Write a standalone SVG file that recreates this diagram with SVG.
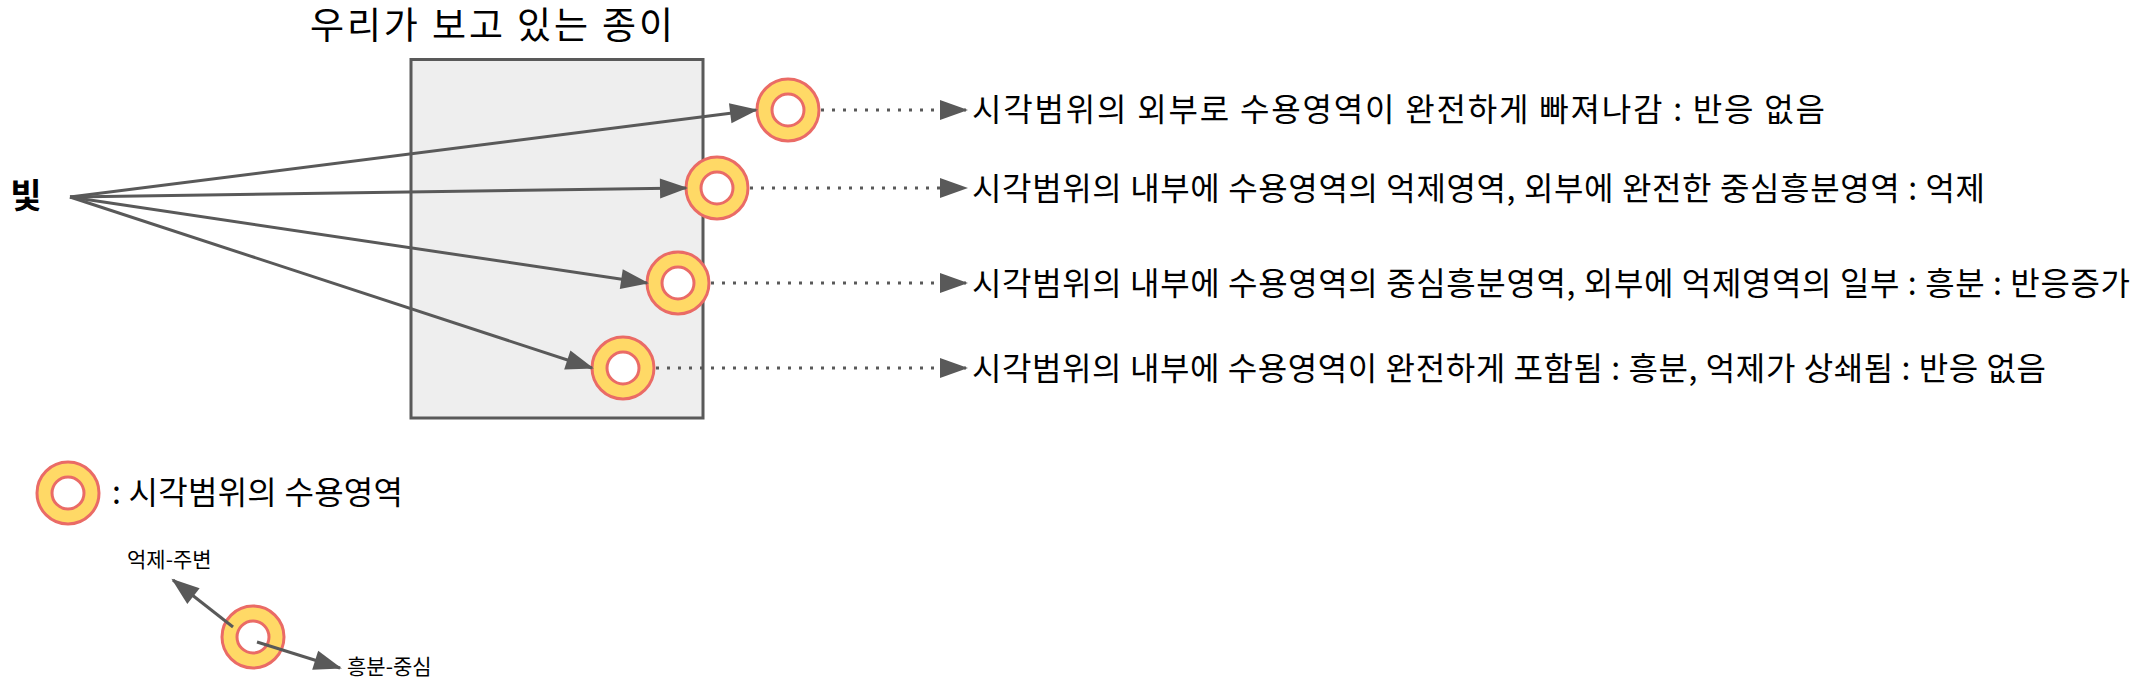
<svg xmlns="http://www.w3.org/2000/svg" width="2144" height="691" viewBox="0 0 2144 691">
<style>
text{font-family:"Noto Sans CJK KR","Noto Sans",sans-serif;fill:#000}
.lbl{font-size:32px}
.small{font-size:21px}
.outer{fill:#FFD966;stroke:#EA6B66;stroke-width:3}
.inner{fill:#ffffff;stroke:#EA6B66;stroke-width:3}
.ray{stroke:#595959;stroke-width:3;fill:none;marker-end:url(#ah)}
.dot{stroke:#595959;stroke-width:3;fill:none;stroke-dasharray:3 8;marker-end:url(#ah)}
</style>
<defs>
<marker id="ah" markerUnits="userSpaceOnUse" markerWidth="28" markerHeight="20" refX="26" refY="10" orient="auto" overflow="visible">
<path d="M0,0 L28,10 L0,20 Z" fill="#595959"/>
</marker>
</defs>
<rect width="2144" height="691" fill="#ffffff"/>
<g id="paper">
<rect x="411" y="59.5" width="292" height="358.5" fill="#EEEEEE" stroke="#595959" stroke-width="3"/>
<text x="310" y="39" font-size="37" textLength="363">우리가 보고 있는 종이</text>
</g>
<g id="light">
<text x="26" y="208" font-size="34" font-weight="bold" text-anchor="middle">빛</text>
</g>
<g id="rf1"><circle class="outer" cx="788" cy="110" r="31"/><circle class="inner" cx="788" cy="110" r="16"/></g>
<g id="rf2"><circle class="outer" cx="717" cy="188" r="31"/><circle class="inner" cx="717" cy="188" r="16"/></g>
<g id="rf3"><circle class="outer" cx="678" cy="283" r="31"/><circle class="inner" cx="678" cy="283" r="16"/></g>
<g id="rf4"><circle class="outer" cx="623" cy="368" r="31"/><circle class="inner" cx="623" cy="368" r="16"/></g>
<g id="label1"><text class="lbl" x="972" y="121" textLength="853">시각범위의 외부로 수용영역이 완전하게 빠져나감 : 반응 없음</text></g>
<g id="label2"><text class="lbl" x="972" y="200" textLength="1013">시각범위의 내부에 수용영역의 억제영역, 외부에 완전한 중심흥분영역 : 억제</text></g>
<g id="label3"><text class="lbl" x="972" y="295" textLength="1158">시각범위의 내부에 수용영역의 중심흥분영역, 외부에 억제영역의 일부 : 흥분 : 반응증가</text></g>
<g id="label4"><text class="lbl" x="972" y="380" textLength="1074">시각범위의 내부에 수용영역이 완전하게 포함됨 : 흥분, 억제가 상쇄됨 : 반응 없음</text></g>
<g id="legend">
<circle class="outer" cx="68" cy="493" r="31"/><circle class="inner" cx="68" cy="493" r="16"/>
<text class="lbl" x="112" y="504" textLength="291">: 시각범위의 수용영역</text>
</g>
<g id="legend2">
<circle class="outer" cx="253" cy="637" r="31"/><circle class="inner" cx="253" cy="637" r="16"/>
<text class="small" x="127" y="567">억제-주변</text>
<text class="small" x="347" y="674">흥분-중심</text>
</g>
<g id="connectors">
<line class="ray" x1="70" y1="197" x2="756" y2="110"/>
<line class="ray" x1="70" y1="197" x2="686" y2="188"/>
<line class="ray" x1="70" y1="197" x2="647" y2="283"/>
<line class="ray" x1="70" y1="197" x2="592" y2="368"/>
<line class="dot" x1="821" y1="110" x2="966" y2="110"/>
<line class="dot" x1="750" y1="188" x2="966" y2="188"/>
<line class="dot" x1="711" y1="283" x2="966" y2="283"/>
<line class="dot" x1="656" y1="368" x2="966" y2="368"/>
<line class="ray" x1="233" y1="627" x2="173" y2="580"/>
<line class="ray" x1="257" y1="642" x2="340" y2="668"/>
</g>
</svg>
